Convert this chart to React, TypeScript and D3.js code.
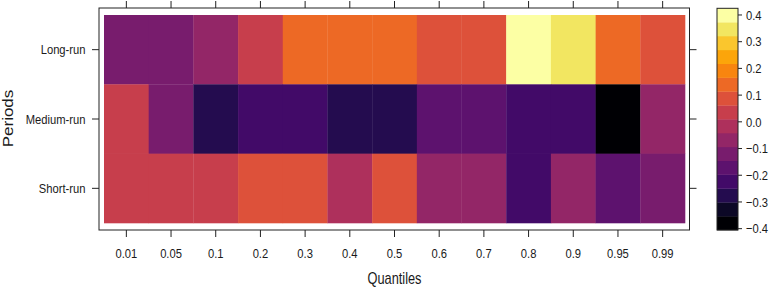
import React from "react";
import * as d3 from "d3";

const quantiles = ["0.01", "0.05", "0.1", "0.2", "0.3", "0.4", "0.5", "0.6", "0.7", "0.8", "0.9", "0.95", "0.99"];
const periods = ["Long-run", "Medium-run", "Short-run"];
const longRun = [-0.118, -0.122, -0.07, 0.034, 0.142, 0.138, 0.14, 0.09, 0.086, 0.425, 0.345, 0.139, 0.088];
const mediumRun = [0.035, -0.12, -0.276, -0.222, -0.225, -0.274, -0.277, -0.17, -0.172, -0.224, -0.221, -0.405, -0.066];
const shortRun = [0.037, 0.035, 0.033, 0.088, 0.09, -0.018, 0.087, -0.068, -0.07, -0.224, -0.067, -0.17, -0.12];
const colorTicks = [-0.4, -0.3, -0.2, -0.1, 0.0, 0.1, 0.2, 0.3, 0.4];
const nBins = 16;

const W = 769, H = 289;
const SX = 0.83;

export default function App() {
  const rows = [longRun, mediumRun, shortRun];
  const all = rows.flat();
  const [lo, hi] = d3.extent(all) as [number, number];
  const step = (hi - lo) / nBins;
  const breaks = d3.range(nBins + 1).map((i) => lo + i * step);
  const binOf = (v: number) => Math.max(0, Math.min(nBins - 1, Math.floor((v - lo) / step)));
  const colorOf = (v: number) => d3.interpolateInferno(binOf(v) / (nBins - 1));

  const x = d3.scaleBand<string>().domain(quantiles).range([104, 685]).padding(0);
  const y = d3.scaleBand<string>().domain(periods).range([15, 223]).padding(0);
  const cy = d3.scaleLinear().domain([lo, hi]).range([230, 8.3]);

  const panel = { x0: 99, x1: 689.5, y0: 8, y1: 230 };
  const tickFont = 13.5;
  const fam = "'Liberation Sans', Arial, Helvetica, sans-serif";
  const stroke = "#222";
  const txt = "#1a1a1a";

  return (
    <svg width={W} height={H} style={{ position: "absolute", left: 0, top: 0, background: "#fff" }} fontFamily={fam}>
      {rows.map((vals, r) =>
        vals.map((v, c) => (
          <rect
            key={`${r}-${c}`}
            x={x(quantiles[c])!}
            y={y(periods[r])!}
            width={x.bandwidth() + 0.3}
            height={y.bandwidth() + 0.3}
            fill={colorOf(v)}
          />
        ))
      )}
      <rect x={panel.x0} y={panel.y0} width={panel.x1 - panel.x0} height={panel.y1 - panel.y0} fill="none" stroke={stroke} strokeWidth={1} />
      {quantiles.map((q) => {
        const cx = x(q)! + x.bandwidth() / 2;
        return (
          <g key={q}>
            <line x1={cx} x2={cx} y1={panel.y0} y2={panel.y0 - 7} stroke={stroke} />
            <line x1={cx} x2={cx} y1={panel.y1} y2={panel.y1 + 7} stroke={stroke} />
            <text transform={`translate(${cx},258.3) scale(${SX},1)`} textAnchor="middle" fontSize={tickFont} fill={txt}>
              {q}
            </text>
          </g>
        );
      })}
      {periods.map((p) => {
        const cyy = y(p)! + y.bandwidth() / 2;
        return (
          <g key={p}>
            <line x1={panel.x0} x2={panel.x0 - 7} y1={cyy} y2={cyy} stroke={stroke} />
            <line x1={panel.x1} x2={panel.x1 + 7} y1={cyy} y2={cyy} stroke={stroke} />
            <text transform={`translate(85.5,${cyy + 4.8}) scale(${SX},1)`} textAnchor="end" fontSize={tickFont} fill={txt}>
              {p}
            </text>
          </g>
        );
      })}
      <text transform={`translate(394.5,283.5) scale(0.8,1)`} textAnchor="middle" fontSize={16} fill={txt}>
        Quantiles
      </text>
      <text transform={`translate(13,118.5) scale(${SX},1) rotate(-90)`} textAnchor="middle" fontSize={17} fill={txt}>
        Periods
      </text>
      {d3.range(nBins).map((i) => (
        <rect
          key={i}
          x={717}
          y={cy(breaks[i + 1])}
          width={21}
          height={cy(breaks[i]) - cy(breaks[i + 1]) + 0.3}
          fill={d3.interpolateInferno(i / (nBins - 1))}
        />
      ))}
      <rect x={717} y={cy(hi)} width={21} height={cy(lo) - cy(hi)} fill="none" stroke={stroke} strokeWidth={1} />
      {colorTicks.map((t) => (
        <g key={t}>
          <line x1={738} x2={742} y1={cy(t)} y2={cy(t)} stroke={stroke} />
          <text transform={`translate(746,${cy(t) + 4.8}) scale(${SX},1)`} fontSize={tickFont} fill={txt}>
            {d3.format(".1f")(t)}
          </text>
        </g>
      ))}
    </svg>
  );
}
